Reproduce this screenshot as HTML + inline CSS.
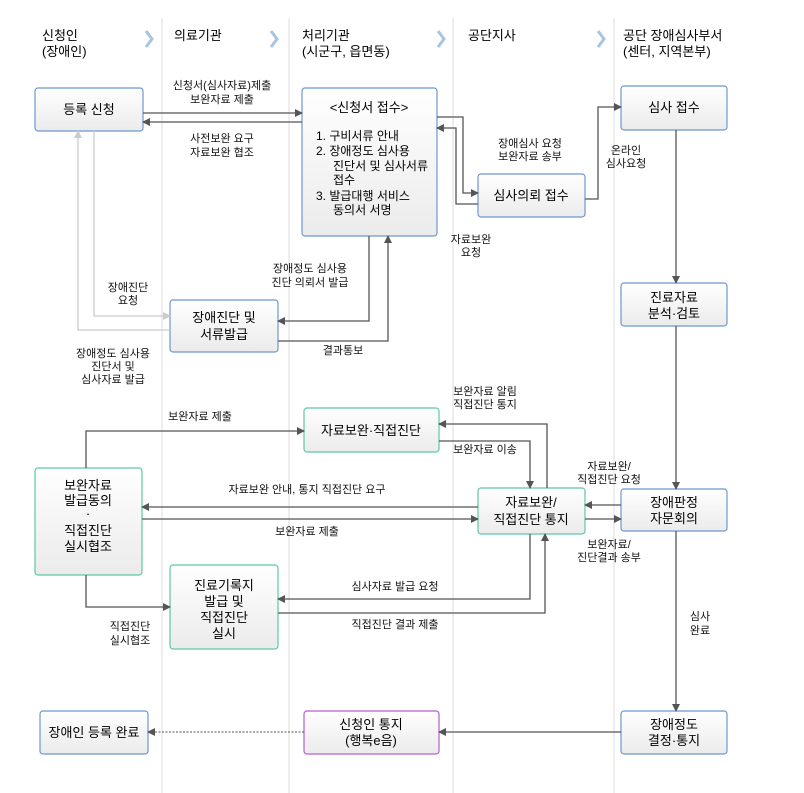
<!DOCTYPE html>
<html><head><meta charset="utf-8"><style>
body{margin:0;background:#fff;}
svg{display:block;font-family:"Liberation Sans","Noto Sans CJK KR",sans-serif;}
.l{font-size:11px;fill:#111;text-anchor:middle;}
.b{font-size:13px;fill:#000;text-anchor:middle;}
.h{font-size:13px;fill:#000;}
.c{stroke:#555;stroke-width:1.3;fill:none;}
.g{stroke:#ccc;stroke-width:1.3;fill:none;}
</style></head><body>
<svg width="804" height="793" viewBox="0 0 804 793">
<defs>
<linearGradient id="gr" x1="0" y1="0" x2="0" y2="1"><stop offset="0" stop-color="#fff"/><stop offset="1" stop-color="#ebebeb"/></linearGradient>
<marker id="a" markerWidth="8" markerHeight="8" refX="7" refY="4" orient="auto" markerUnits="userSpaceOnUse"><path d="M0,0 L8,4 L0,8z" fill="#555"/></marker>
<marker id="ag" markerWidth="8" markerHeight="8" refX="7" refY="4" orient="auto" markerUnits="userSpaceOnUse"><path d="M0,0 L8,4 L0,8z" fill="#ccc"/></marker>
</defs>
<g stroke="#ddd" stroke-width="1">
<line x1="162" y1="18" x2="162" y2="793"/><line x1="289" y1="18" x2="289" y2="793"/>
<line x1="453" y1="18" x2="453" y2="793"/><line x1="614" y1="18" x2="614" y2="793"/>
</g>
<g fill="none" stroke="#a9c4e0" stroke-width="3">
<path d="M146,31 L152,39 L146,47"/><path d="M271,31 L277,39 L271,47"/><path d="M438,31 L444,39 L438,47"/><path d="M598,31 L604,39 L598,47"/>
</g>
<text class="h" x="42" y="40">신청인</text><text class="h" x="42" y="56">(장애인)</text>
<text class="h" x="174" y="40">의료기관</text>
<text class="h" x="302" y="40">처리기관</text><text class="h" x="302" y="56">(시군구, 읍면동)</text>
<text class="h" x="468" y="40">공단지사</text>
<text class="h" x="623" y="40">공단 장애심사부서</text><text class="h" x="623" y="56">(센터, 지역본부)</text>

<g fill="url(#gr)" stroke-width="1.2">
<rect x="35" y="88" width="108" height="43" rx="3" stroke="#6d97d1"/>
<rect x="302" y="88" width="135" height="148" rx="3" stroke="#6d97d1"/>
<rect x="621" y="86" width="106" height="44" rx="3" stroke="#6d97d1"/>
<rect x="478" y="174" width="107" height="43" rx="3" stroke="#6d97d1"/>
<rect x="170" y="300" width="108" height="52" rx="3" stroke="#6d97d1"/>
<rect x="621" y="283" width="106" height="43" rx="3" stroke="#6d97d1"/>
<rect x="304" y="408" width="135" height="44" rx="3" stroke="#5cc8a8"/>
<rect x="35" y="468" width="107" height="107" rx="3" stroke="#5cc8a8"/>
<rect x="478" y="488" width="107" height="46" rx="3" stroke="#5cc8a8"/>
<rect x="621" y="489" width="106" height="42" rx="3" stroke="#6d97d1"/>
<rect x="170" y="565" width="108" height="84" rx="3" stroke="#5cc8a8"/>
<rect x="40" y="711" width="108" height="43" rx="3" stroke="#6d97d1"/>
<rect x="304" y="711" width="135" height="43" rx="3" stroke="#b460cc"/>
<rect x="621" y="711" width="106" height="43" rx="3" stroke="#6d97d1"/>
</g>
<text class="b" x="89" y="114">등록 신청</text>
<text class="b" x="369" y="112">&lt;신청서 접수&gt;</text>
<g class="b" style="text-anchor:start;font-size:12px">
<text x="316" y="140">1.  구비서류 안내</text>
<text x="316" y="155">2.  장애정도 심사용</text>
<text x="333" y="170">진단서 및 심사서류</text>
<text x="333" y="184">접수</text>
<text x="316" y="200">3.  발급대행 서비스</text>
<text x="333" y="214">동의서 서명</text>
</g>
<text class="b" x="674" y="112">심사 접수</text>
<text class="b" x="531" y="200">심사의뢰 접수</text>
<text class="b" x="224" y="322">장애진단 및</text><text class="b" x="224" y="339">서류발급</text>
<text class="b" x="674" y="302">진료자료</text><text class="b" x="674" y="318">분석·검토</text>
<text class="b" x="371" y="435">자료보완·직접진단</text>
<text class="b" x="88" y="490">보완자료</text><text class="b" x="88" y="505">발급동의</text><text class="b" x="88" y="518">·</text><text class="b" x="88" y="535">직접진단</text><text class="b" x="88" y="551">실시협조</text>
<text class="b" x="531" y="507">자료보완/</text><text class="b" x="531" y="524">직접진단 통지</text>
<text class="b" x="674" y="507">장애판정</text><text class="b" x="674" y="523">자문회의</text>
<text class="b" x="224" y="590">진료기록지</text><text class="b" x="224" y="606">발급 및</text><text class="b" x="224" y="622">직접진단</text><text class="b" x="224" y="638">실시</text>
<text class="b" x="94" y="737">장애인 등록 완료</text>
<text class="b" x="371" y="729">신청인 통지</text><text class="b" x="371" y="745">(행복e음)</text>
<text class="b" x="674" y="729">장애정도</text><text class="b" x="674" y="745">결정·통지</text>

<path class="c" d="M143,113 H302" marker-end="url(#a)"/>
<path class="c" d="M302,122 H143" marker-end="url(#a)"/>
<path class="c" d="M437,117 H463 V193 H478" marker-end="url(#a)"/>
<path class="c" d="M478,204 H456 V128 H437" marker-end="url(#a)"/>
<path class="c" d="M585,199 H598 V107 H621" marker-end="url(#a)"/>
<path class="c" d="M676,130 V283" marker-end="url(#a)"/>
<path class="c" d="M676,326 V489" marker-end="url(#a)"/>
<path class="c" d="M676,531 V711" marker-end="url(#a)"/>
<path class="c" d="M621,732 H439" marker-end="url(#a)"/>
<path d="M304,732 H148" stroke="#555" stroke-width="1.1" stroke-dasharray="2,1.5" fill="none" marker-end="url(#a)"/>
<path class="c" d="M621,505 H585" marker-end="url(#a)"/>
<path class="c" d="M585,519 H621" marker-end="url(#a)"/>
<path class="c" d="M478,507 H142" marker-end="url(#a)"/>
<path class="c" d="M142,519 H478" marker-end="url(#a)"/>
<path class="c" d="M86,468 V431 H304" marker-end="url(#a)"/>
<path class="c" d="M439,441 H530 V488" marker-end="url(#a)"/>
<path class="c" d="M547,488 V424 H439" marker-end="url(#a)"/>
<path class="c" d="M530,534 V599 H278" marker-end="url(#a)"/>
<path class="c" d="M278,613 H545 V534" marker-end="url(#a)"/>
<path class="c" d="M86,575 V607 H170" marker-end="url(#a)"/>
<path class="c" d="M369,236 V321 H278" marker-end="url(#a)"/>
<path class="c" d="M278,341 H388 V236" marker-end="url(#a)"/>
<path class="g" d="M170,330 H78 V131" marker-end="url(#ag)"/>
<path class="g" d="M94,131 V316 H170" marker-end="url(#ag)"/>

<text class="l" x="222" y="89">신청서(심사자료)제출</text><text class="l" x="222" y="103">보완자료 제출</text>
<text class="l" x="222" y="142">사전보완 요구</text><text class="l" x="222" y="156">자료보완 협조</text>
<text class="l" x="530" y="147">장애심사 요청</text><text class="l" x="530" y="160">보완자료 송부</text>
<text class="l" x="626" y="154">온라인</text><text class="l" x="626" y="167">심사요청</text>
<text class="l" x="471" y="243">자료보완</text><text class="l" x="471" y="256">요청</text>
<text class="l" x="310" y="272">장애정도 심사용</text><text class="l" x="310" y="286">진단 의뢰서 발급</text>
<text class="l" x="128" y="291">장애진단</text><text class="l" x="128" y="304">요청</text>
<text class="l" x="343" y="354">결과통보</text>
<text class="l" x="113" y="357">장애정도 심사용</text><text class="l" x="113" y="370">진단서 및</text><text class="l" x="113" y="383">심사자료 발급</text>
<text class="l" x="485" y="395">보완자료 알림</text><text class="l" x="485" y="408">직접진단 통지</text>
<text class="l" x="200" y="420">보완자료 제출</text>
<text class="l" x="485" y="453">보완자료 이송</text>
<text class="l" x="609" y="470">자료보완/</text><text class="l" x="609" y="483">직접진단 요청</text>
<text class="l" x="307" y="493">자료보완 안내, 통지 직접진단 요구</text>
<text class="l" x="307" y="535">보완자료 제출</text>
<text class="l" x="609" y="548">보완자료/</text><text class="l" x="609" y="561">진단결과 송부</text>
<text class="l" x="395" y="590">심사자료 발급 요청</text>
<text class="l" x="700" y="620">심사</text><text class="l" x="700" y="634">완료</text>
<text class="l" x="395" y="628">직접진단 결과 제출</text>
<text class="l" x="130" y="630">직접진단</text><text class="l" x="130" y="644">실시협조</text>
</svg>
</body></html>
